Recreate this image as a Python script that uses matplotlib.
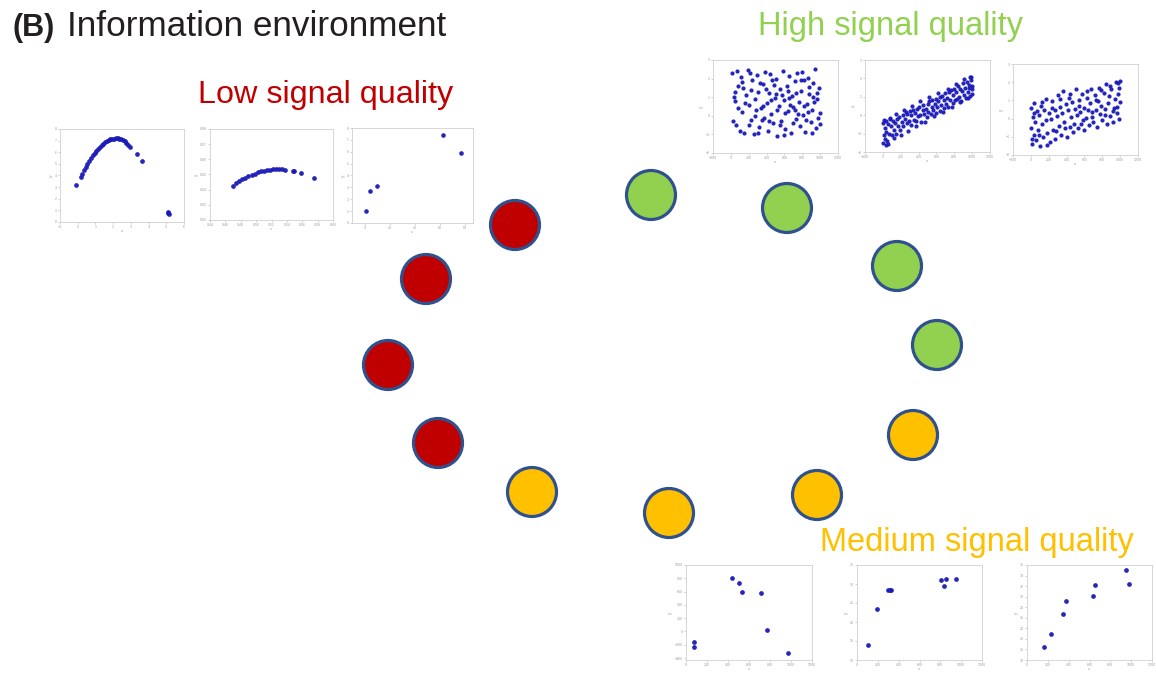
#! /usr/bin/env python3
"""
Information environment panel (B): circles coloured by signal quality,
with small example scatter plots for each quality level.
"""
import matplotlib
matplotlib.use('Agg')
import matplotlib.pyplot as plt
from matplotlib.patches import Circle

plt.rcParams['font.family'] = ['Liberation Sans', 'DejaVu Sans']

W, H = 1156, 673

# Circle centres in picture pixels, with their quality group
circle_x = [515, 426, 388, 438, 651, 787, 897, 937, 913, 817, 669, 532]
circle_y = [225, 279, 365, 443, 195, 208, 266, 345, 435, 495, 513, 492]
circle_group = ['low', 'low', 'low', 'low',
                'high', 'high', 'high', 'high',
                'medium', 'medium', 'medium', 'medium']
group_colors = {'low': '#C00000', 'high': '#92D050', 'medium': '#FFC000'}
group_labels = {'low': 'Low signal quality',
                'high': 'High signal quality',
                'medium': 'Medium signal quality'}

# ---- low signal quality examples ----
low1_x = [-0.10, 0.17, 0.25, 0.35, 0.45, 0.55, 0.65, 0.75, 0.85, 0.95, 1.05, 1.15,
          1.25, 1.35, 1.45, 1.55, 1.65, 1.75, 1.85, 1.95, 2.05, 2.15, 2.25, 2.35,
          2.45, 2.55, 2.65, 2.75, 2.85, 2.95, 3.33, 3.63, 5.08, 5.10, 5.15]
low1_y = [3.20, 3.90, 4.16, 4.46, 4.75, 5.02, 5.28, 5.52, 5.74, 5.95, 6.14, 6.32,
          6.48, 6.62, 6.75, 6.86, 6.96, 7.04, 7.10, 7.15, 7.18, 7.20, 7.20, 7.17,
          7.12, 7.04, 6.94, 6.81, 6.65, 6.47, 5.83, 5.29, 0.86, 0.78, 0.69]

low2_x = [0.470, 0.474, 0.478, 0.482, 0.486, 0.490, 0.494, 0.498, 0.502, 0.506,
          0.510, 0.514, 0.518, 0.522, 0.526, 0.530, 0.534, 0.538,
          0.5474, 0.5490, 0.5587, 0.5748]
low2_y = [0.0427, 0.0442, 0.0455, 0.0468, 0.0479, 0.0489, 0.0498, 0.0506, 0.0514,
          0.0520, 0.0525, 0.0528, 0.0531, 0.0533, 0.0534, 0.0534, 0.0533, 0.0530,
          0.0525, 0.0522, 0.0512, 0.0477]

low3_x = [0.5, 4.0, 9.3, 62.7, 77.3]
low3_y = [0.98, 2.67, 3.09, 7.44, 5.89]

# ---- high signal quality examples ----
high1_x = [15, 42, 60, 85, 110, 130, 150, 175, 190, 205, 225, 240, 260, 275, 290,
           305, 320, 340, 355, 370, 385, 400, 415, 430, 445, 460, 475, 490, 505,
           520, 535, 550, 565, 580, 595, 610, 625, 640, 655, 670, 685, 700, 715,
           730, 745, 760, 775, 790, 805, 820, 835, 850, 865, 880, 895, 910, 925,
           940, 955, 970, 985, 1000,
           20, 50, 75, 100, 125, 160, 200, 230, 265, 300, 330, 365, 395, 425, 455,
           485, 515, 545, 575, 605, 635, 665, 695, 725, 755, 785, 815, 845, 875,
           905, 935, 965, 995, 30, 70, 140, 215, 285, 350, 440, 510, 590, 650, 720,
           800, 860, 920, 980]
high1_y = [2.30, 0.80, -0.50, 1.60, 2.10, 0.20, -0.90, 1.10, 2.45, 0.60, -0.20, 1.90,
           -1.00, 0.90, 2.20, 1.30, -0.60, 0.40, 1.70, -0.10, 2.35, 0.70, -0.80, 1.20,
           0.10, 1.90, -0.40, 0.95, 2.00, -1.10, 0.50, 1.45, -0.30, 2.40, 0.85, -0.70,
           1.60, 0.25, 2.15, -0.95, 1.05, 0.45, 1.85, -0.15, 2.30, 0.75, -0.55, 1.35,
           0.05, 1.95, -0.85, 0.65, 2.05, 1.15, -0.35, 0.30, 1.75, 2.50, -0.65, 0.90,
           1.50, 0.15,
           -0.30, 1.30, 0.40, -0.80, 1.80, 0.70, -0.50, 1.40, 0.00, -0.90, 1.75, 0.55,
           1.45, -0.30, 0.85, 1.65, 0.30, -0.50, 1.10, 0.15, 1.35, 0.60, -0.40, 1.25,
           0.10, 1.95, 0.50, -0.20, 1.55, -0.95, 0.75, 1.20, -0.45, 1.00, 2.40, 1.50,
           2.30, 0.30, -0.25, 2.25, 1.15, -1.05, 0.95, 0.30, 2.35, 0.20, 1.00, -0.10]

high2_x = [0, 5, 10, 20, 25, 30, 40, 50, 55, 65, 75,
           90, 100, 110, 120, 135, 145, 160,
           170, 185, 195, 210, 220, 230, 245, 255,
           265, 275, 290, 300, 310, 320, 335, 345,
           360, 370, 385, 395, 410, 420, 430, 445,
           455, 465, 480, 490, 500, 510, 520, 535, 545,
           555, 565, 580, 590, 600, 610, 620, 635, 645,
           655, 665, 680, 690, 700, 710, 720, 735, 745,
           755, 765, 780, 790, 800, 810, 820, 835, 845,
           855, 865, 880, 890, 900, 910, 920, 935, 945,
           955, 965, 975, 985, 995, 1000, 990, 970,
           15, 35, 60, 85, 130, 150, 205, 240, 280, 325, 375, 415, 470,
           515, 570, 615, 670, 725, 770, 815, 860, 905, 950, 980, 1000]
high2_y = [-1.50, -0.40, -1.10, -0.70, -1.30, -0.30, -0.90, -1.40, -0.50, -1.00, -0.20,
           -0.60, -1.10, -0.30, -0.80, -0.45, -1.00, -0.20,
           -0.60, -0.10, -0.80, -0.35, 0.00, -0.60, -0.20, 0.15,
           -0.45, 0.05, -0.30, 0.25, -0.55, 0.00, 0.30, -0.25,
           0.10, -0.30, 0.35, -0.05, 0.45, 0.00, -0.35, 0.30,
           0.55, 0.05, 0.35, -0.10, 0.60, 0.20, 0.75, 0.05, 0.45,
           0.85, 0.30, 0.60, 0.10, 0.90, 0.45, 0.75, 0.25, 1.00,
           0.55, 1.05, 0.40, 0.85, 1.20, 0.60, 0.95, 0.45, 1.25,
           0.80, 1.35, 0.65, 1.10, 1.45, 0.80, 1.25, 0.90, 1.60,
           1.00, 1.45, 0.75, 1.30, 1.75, 1.10, 1.50, 0.95, 1.80,
           1.25, 1.65, 1.05, 1.90, 1.40, 1.60, 2.05, 1.50,
           -0.25, -1.60, -1.55, -0.15, -1.25, 0.05, -1.05, 0.30, -0.85, 0.50, -0.60,
           0.75, -0.35, 1.00, -0.05, 1.20, 0.20, 1.45, 0.45, 1.70, 0.70, 1.95, 0.95,
           2.10, 1.15]

high3_x = [0, 5, 10, 20, 30, 40, 50, 60, 70, 80, 95, 105, 115, 125, 140, 150, 165,
           175, 185, 200, 215, 225, 240, 250, 265, 275, 290, 300, 315, 325, 340,
           350, 365, 375, 390, 400, 415, 425, 440, 450, 465, 475, 490, 500, 515,
           525, 540, 550, 565, 575, 590, 600, 615, 625, 640, 650, 665, 675, 690,
           700, 715, 725, 740, 750, 765, 775, 790, 800, 815, 825, 840, 850, 865,
           875, 890, 900, 915, 925, 940, 950, 965, 975, 990, 1000, 985, 995, 960,
           12, 35, 90, 130, 180, 235, 285, 330, 385, 435, 485, 535, 585, 630,
           685, 735, 785, 835, 885, 930, 980]
high3_y = [-0.50, 0.60, -1.40, 0.10, -0.90, 0.85, -0.20, -1.20, 0.40, -0.60, 0.20,
           -1.50, 0.70, -0.30, -1.00, 0.50, -0.10, 1.05, -0.80, 0.30, -1.30, 0.00,
           0.95, -0.60, 0.45, -1.10, 0.15, 1.30, -0.40, 0.65, -0.90, 0.30, 1.50,
           -0.20, 0.80, -1.00, 0.45, 1.15, -0.45, 0.10, 0.90, -0.75, 0.55, 1.60,
           0.20, -0.50, 1.00, 0.35, -0.30, 1.35, 0.60, -0.60, 0.05, 1.15, 0.45,
           -0.35, 0.85, 1.60, 0.10, -0.20, 1.30, 0.50, -0.45, 0.95, 1.70, 0.25,
           0.70, -0.10, 1.40, 0.55, 1.90, -0.30, 0.85, 1.25, 0.15, 1.60, 0.40,
           -0.20, 1.05, 2.00, 0.65, 1.35, 0.00, 0.90, 1.70, 2.05, 0.30,
           -1.10, 0.30, -0.90, 0.90, -1.45, 0.60, -0.70, 1.10, -0.50, 1.35, -0.30,
           0.70, -0.10, 1.50, 0.35, 1.00, 1.55, 0.20, 1.80, 0.60, 1.95]

# ---- medium signal quality examples ----
med1_x = [76, 76, 436, 500, 538, 716, 774, 968]
med1_y = [-165, -230, 800, 730, 595, 585, 20, -325]

med2_x = [102, 189, 294, 314, 330, 806, 838, 851, 947]
med2_y = [14.0, 23.3, 28.4, 28.4, 28.4, 31.0, 29.6, 31.4, 31.3]

med3_x = [163, 234, 342, 378, 637, 653, 950, 982]
med3_y = [20.4, 22.9, 26.75, 29.2, 30.1, 32.25, 35.0, 32.4]


def px_rect(left, top, right, bottom):
    # pixel box (origin top-left) -> figure fraction rect
    return [left / W, 1 - bottom / H, (right - left) / W, (bottom - top) / H]


def make_inset(fig, box, xs, ys, xlim, ylim, xticks, yticks, ms):
    iax = fig.add_axes(px_rect(*box))
    iax.plot(xs, ys, 'o', color='#1a1ab8', markersize=ms,
             markeredgewidth=0, alpha=0.95)
    iax.set_xlim(xlim)
    iax.set_ylim(ylim)
    iax.set_xticks(xticks)
    iax.set_yticks(yticks)
    iax.tick_params(labelsize=2.6, length=1.2, width=0.4, pad=1,
                    colors='#b0b0b0', labelcolor='#a0a0a0')
    for sp in iax.spines.values():
        sp.set_color('#d0d0d0')
        sp.set_linewidth(0.6)
    iax.set_xlabel('x', fontsize=3.2, color='#a0a0a0', labelpad=0.3)
    iax.set_ylabel('y', fontsize=3.5, color='#a0a0a0', labelpad=1, rotation=90)
    return iax


fig = plt.figure(figsize=(W / 100, H / 100), dpi=100)
ax = fig.add_axes([0, 0, 1, 1])
ax.set_xlim(0, W)
ax.set_ylim(H, 0)
ax.axis('off')

for cx, cy, g in zip(circle_x, circle_y, circle_group):
    ax.add_patch(Circle((cx, cy), 24.5, facecolor=group_colors[g],
                        edgecolor='#2F528F', linewidth=2.3, zorder=3))

# panel title
ax.text(12, 36, '(B)', fontsize=22, fontweight='bold', color='#231F20')
ax.text(67, 36, 'Information environment', fontsize=25.3, color='#231F20')

# group labels
ax.text(198, 103, group_labels['low'], fontsize=23.3, color=group_colors['low'])
ax.text(758, 35, group_labels['high'], fontsize=23.5, color=group_colors['high'])
ax.text(820, 551, group_labels['medium'], fontsize=23.5,
        color=group_colors['medium'])

# inset example plots
make_inset(fig, (60, 129, 184, 222), low1_x, low1_y, (-1, 6), (0, 8),
           range(-1, 7), range(0, 9), 3.4)
make_inset(fig, (210, 129, 333, 220), low2_x, low2_y, (0.44, 0.60), (0.02, 0.08),
           [0.44, 0.46, 0.48, 0.50, 0.52, 0.54, 0.56, 0.58, 0.60],
           [0.02, 0.03, 0.04, 0.05, 0.06, 0.07, 0.08], 3.4)
make_inset(fig, (352, 128, 473, 223), low3_x, low3_y, (-10.7, 86.7), (0, 8),
           [0, 20, 40, 60, 80], range(0, 9), 3.3)

hi_xt = [-200, 0, 200, 400, 600, 800, 1000, 1200]
hi_yt = [-2, -1, 0, 1, 2, 3]
make_inset(fig, (713, 60, 838, 153), high1_x, high1_y, (-200, 1200), (-2, 3),
           hi_xt, hi_yt, 3.0)
make_inset(fig, (865, 60, 990, 152), high2_x, high2_y, (-200, 1200), (-2, 3),
           hi_xt, hi_yt, 3.0)
make_inset(fig, (1013, 64, 1138, 155), high3_x, high3_y, (-200, 1200), (-2, 3),
           hi_xt, hi_yt, 3.0)

md_xt = [0, 200, 400, 600, 800, 1000, 1200]
make_inset(fig, (686, 565, 812, 660), med1_x, med1_y, (0, 1200), (-430, 1000),
           md_xt, range(-400, 1001, 200), 3.4)
make_inset(fig, (857, 565, 982, 660), med2_x, med2_y, (0, 1200), (10, 35),
           md_xt, range(10, 36, 5), 3.4)
make_inset(fig, (1027, 565, 1152, 660), med3_x, med3_y, (0, 1200), (18, 36),
           md_xt, range(18, 37, 2), 3.4)

fig.savefig('out.png', dpi=100)
